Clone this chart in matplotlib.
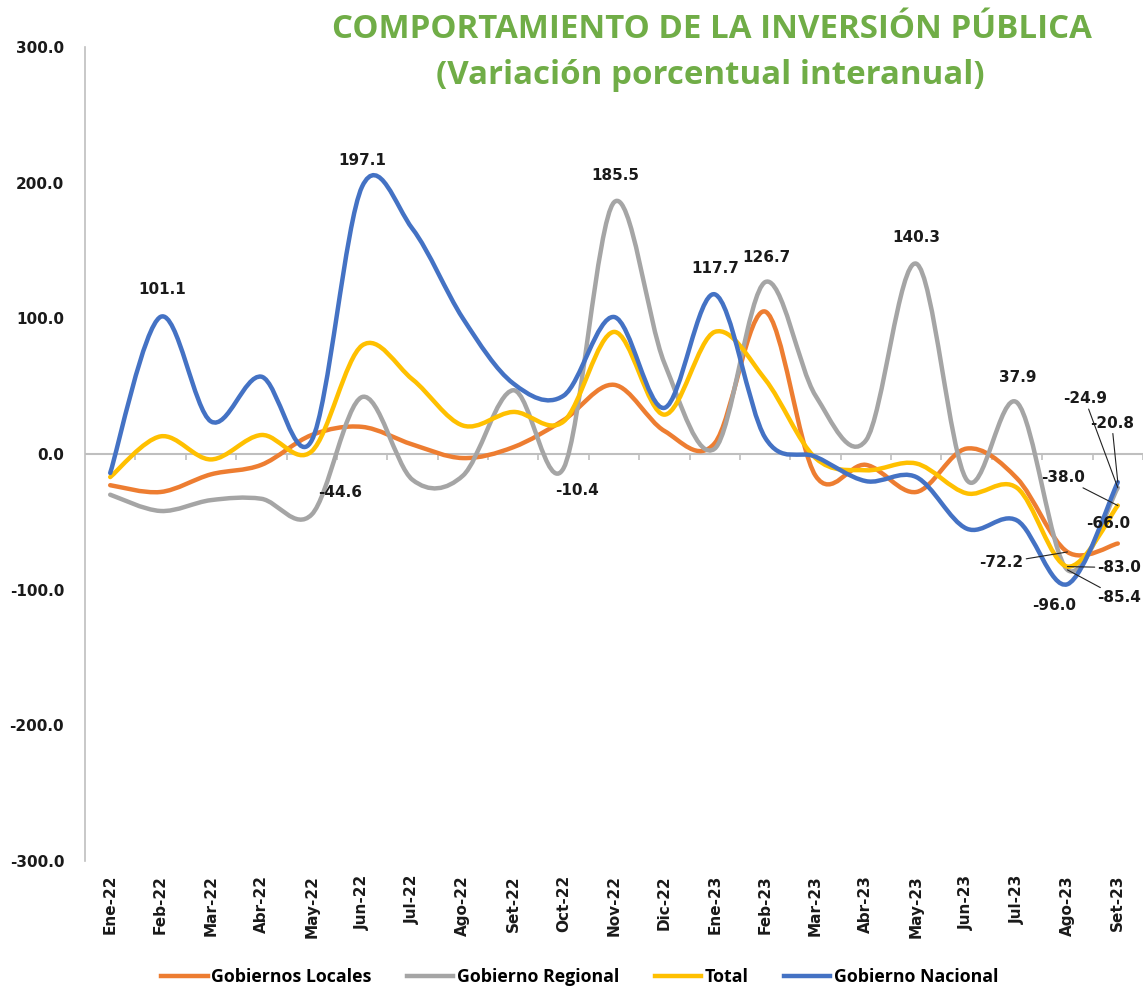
import numpy as np
import matplotlib
matplotlib.use('Agg')
import matplotlib.pyplot as plt
from matplotlib.path import Path
from matplotlib.patches import PathPatch
from matplotlib.lines import Line2D

months = ['Ene-22', 'Feb-22', 'Mar-22', 'Abr-22', 'May-22', 'Jun-22', 'Jul-22',
          'Ago-22', 'Set-22', 'Oct-22', 'Nov-22', 'Dic-22', 'Ene-23', 'Feb-23',
          'Mar-23', 'Abr-23', 'May-23', 'Jun-23', 'Jul-23', 'Ago-23', 'Set-23']

locales  = [-23, -28, -15, -8, 14, 20, 7, -3, 5, 25, 51, 17, 8, 105,
            -16, -8, -28, 4, -18, -72.2, -66.0]
regional = [-30, -42, -34, -33, -44.6, 42, -19, -16, 47, -10.4, 185.5, 67, 4, 126.7,
            43, 10, 140.3, -19, 37.9, -85.4, -24.9]
total    = [-17, 13, -4, 14, 2, 80, 55, 21, 31, 24, 90, 29, 90, 55,
            -3, -12, -7, -29, -25, -83.0, -38.0]
nacional = [-14, 101.1, 24, 57, 10, 197.1, 166, 100, 52, 43, 101, 34, 117.7, 12,
            -2, -20, -17, -55, -49, -96.0, -20.8]

series_names = ['Gobiernos Locales', 'Gobierno Regional', 'Total', 'Gobierno Nacional']
series_vals = [locales, regional, total, nacional]
colors = ['#ED7D31', '#A5A5A5', '#FFC000', '#4472C4']

yticks = [300, 200, 100, 0, -100, -200, -300]

# data labels: (series index, month index, dx px, dy px, leader)
labels = [
    (3, 1, 2, 27, False),
    (3, 5, 0, 26, False),
    (1, 4, 28, 22, False),
    (1, 10, 1, 27, False),
    (1, 9, 13, -22, False),
    (3, 12, 0, 26, False),
    (1, 13, 1, 25, False),
    (1, 16, 0, 26, False),
    (1, 18, 1, 25, False),
    (1, 20, -33, 89, True),
    (3, 20, -6, 59, True),
    (2, 20, -55, 28, True),
    (0, 20, -10, 20, False),
    (0, 19, -66, -11, True),
    (2, 19, 52, -1, True),
    (3, 19, -13, -21, False),
    (1, 19, 52, -28, True),
]


def smooth_path(xs, ys):
    pts = np.column_stack([xs, ys]).astype(float)
    n = len(pts)
    verts = [pts[0]]
    codes = [Path.MOVETO]
    for i in range(n - 1):
        p0 = pts[i - 1] if i > 0 else pts[i]
        p1 = pts[i]
        p2 = pts[i + 1]
        p3 = pts[i + 2] if i + 2 < n else pts[i + 1]
        c1 = p1 + (p2 - p0) / 6.0
        c2 = p2 - (p3 - p1) / 6.0
        verts += [c1, c2, p2]
        codes += [Path.CURVE4] * 3
    return Path(verts, codes)


W, H = 1147, 990
fig = plt.figure(figsize=(W / 100, H / 100), dpi=100)
ax = fig.add_axes([85 / W, 1 - 861 / H, (1143 - 85) / W, (861 - 47) / H])

x = np.arange(len(months))
for vals, c in zip(series_vals, colors):
    patch = PathPatch(smooth_path(x, vals), facecolor='none', edgecolor=c,
                      lw=3.2, capstyle='round', joinstyle='round', zorder=3)
    ax.add_patch(patch)

ax.set_xlim(-0.5, len(months) - 0.5)
ax.set_ylim(-300, 300)

for s in ['top', 'right', 'bottom']:
    ax.spines[s].set_visible(False)
ax.spines['left'].set_color('#BFBFBF')
ax.spines['left'].set_linewidth(1.2)

ax.set_yticks(yticks)
ax.set_yticklabels([f'{v:.1f}' for v in yticks])
ax.tick_params(axis='y', length=0, pad=15)
for t in ax.get_yticklabels():
    t.set_fontsize(11)
    t.set_fontweight('bold')
    t.set_color('#1a1a1a')

ax.set_xticks(x)
ax.set_xticklabels(months, rotation=90)
ax.tick_params(axis='x', length=0, pad=10)
for t in ax.get_xticklabels():
    t.set_fontsize(11)
    t.set_fontweight('bold')
    t.set_color('#1a1a1a')

# zero line with category-boundary ticks
ax.axhline(0, color='#BFBFBF', lw=1.5, zorder=1)
bounds = np.arange(0.5, len(months) + 0.5, 1.0)
tick_len = 6 * 600 / (861 - 47)
ax.vlines(bounds, -tick_len, 0, color='#BFBFBF', lw=1.2, zorder=1)

# data labels
for si, mi, dx, dy, leader in labels:
    v = series_vals[si][mi]
    kw = {}
    if leader:
        kw['arrowprops'] = dict(arrowstyle='-', color='#222222', lw=0.8,
                                shrinkA=0, shrinkB=0)
    ax.annotate(f'{v:.1f}', xy=(mi, v), xytext=(dx, dy), textcoords='offset pixels',
                ha='center', va='center', fontsize=11, fontweight='bold',
                color='#1a1a1a', zorder=5, **kw)

# title
fig.text(712 / W, 1 - 30 / H, 'COMPORTAMIENTO DE LA INVERSIÓN PÚBLICA',
         ha='center', va='center', fontsize=23.8, fontweight='bold',
         color='#70AD47', family='Open Sans')
fig.text(710 / W, 1 - 75 / H, '(Variación porcentual interanual)',
         ha='center', va='center', fontsize=23.8, fontweight='bold',
         color='#70AD47', family='Open Sans')

handles = [Line2D([0], [0], color=c, lw=3.2) for c in colors]
fig.legend(handles, series_names, loc='center', bbox_to_anchor=(580 / W, 1 - 977 / H),
           ncol=4, frameon=False, handlelength=2.6, columnspacing=2.0,
           handletextpad=0.2,
           prop={'family': 'Open Sans', 'weight': 'bold', 'size': 12.8})

fig.savefig('out.png', dpi=100)
